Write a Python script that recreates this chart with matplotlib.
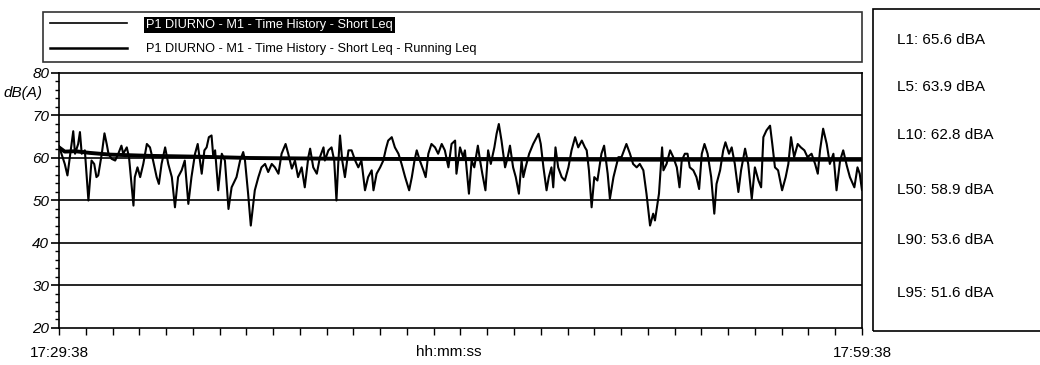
import numpy as np
import matplotlib
matplotlib.use("Agg")
import matplotlib.pyplot as plt
from matplotlib.patches import Rectangle

plt.rcParams['font.family'] = ['Liberation Sans', 'DejaVu Sans']

# short Leq time history, seconds from 17:29:38, dB(A)
t_short = [0, 13, 19, 32, 36, 43, 47, 51, 58, 66, 73, 79, 84, 88, 96, 102, 107, 111, 118, 126,
           133, 140, 144, 152, 157, 167, 170, 176, 182, 189, 197, 204, 211, 219, 224, 230, 238, 245, 253, 260,
           267, 275, 282, 290, 297, 305, 311, 316, 320, 326, 331, 336, 342, 346, 350, 357, 365, 372, 380, 387,
           398, 406, 413, 417, 424, 430, 439, 447, 454, 462, 469, 477, 484, 492, 499, 508, 514, 522, 529, 536,
           544, 551, 559, 563, 570, 578, 585, 593, 596, 604, 611, 617, 622, 626, 630, 635, 641, 649, 656, 664,
           671, 678, 686, 693, 701, 705, 712, 720, 727, 733, 738, 746, 753, 761, 768, 776, 785, 791, 797, 802,
           809, 817, 822, 828, 835, 843, 850, 858, 865, 873, 880, 888, 891, 899, 906, 910, 919, 925, 931, 939,
           944, 949, 956, 962, 968, 976, 981, 986, 992, 1000, 1006, 1011, 1018, 1024, 1031, 1037, 1041, 1046, 1054, 1063,
           1075, 1080, 1086, 1093, 1098, 1104, 1108, 1113, 1119, 1127, 1134, 1142, 1149, 1157, 1164, 1172, 1179, 1183, 1188, 1194,
           1200, 1207, 1216, 1222, 1230, 1235, 1243, 1254, 1261, 1272, 1280, 1287, 1295, 1302, 1310, 1317, 1325, 1332, 1336, 1345,
           1352, 1355, 1362, 1370, 1377, 1385, 1391, 1396, 1403, 1409, 1414, 1422, 1429, 1435, 1441, 1447, 1454, 1462, 1469, 1474,
           1482, 1489, 1494, 1502, 1508, 1515, 1523, 1529, 1538, 1545, 1553, 1560, 1568, 1574, 1579, 1586, 1594, 1599, 1605, 1612,
           1621, 1629, 1635, 1641, 1648, 1656, 1663, 1671, 1678, 1687, 1695, 1701, 1706, 1713, 1721, 1728, 1736, 1743, 1751, 1758,
           1766, 1773, 1783, 1790, 1795, 1800]
leq_short = [62.8, 58.6, 55.9, 66.3, 61.0, 63.3, 66.1, 61.0, 61.8, 50.0, 59.4, 58.6, 55.5, 55.9, 61.0, 65.8, 63.3, 61.0, 59.8, 59.4,
             61.0, 62.9, 61.0, 62.5, 60.2, 48.8, 55.5, 57.8, 55.5, 58.6, 63.3, 62.5, 59.4, 55.5, 53.9, 58.6, 62.5, 58.6, 55.5, 48.4,
             55.5, 57.1, 59.4, 49.2, 55.5, 61.0, 63.3, 59.4, 56.3, 61.8, 62.5, 64.9, 65.3, 60.2, 61.8, 52.4, 61.0, 59.4, 48.0, 53.1,
             55.5, 59.4, 61.4, 59.4, 51.6, 44.1, 52.4, 55.5, 57.8, 58.6, 56.7, 58.6, 57.8, 56.3, 61.0, 63.3, 61.0, 57.5, 59.4, 55.5,
             57.8, 53.1, 60.2, 62.2, 57.8, 56.3, 60.2, 62.5, 59.4, 61.8, 62.5, 59.4, 50.0, 58.6, 65.3, 59.4, 55.5, 61.8, 61.8, 59.4,
             57.8, 59.4, 52.4, 55.5, 57.1, 52.4, 56.3, 57.8, 59.4, 62.2, 64.1, 64.9, 62.5, 61.0, 58.6, 55.5, 52.4, 55.5, 59.4, 61.8,
             59.4, 57.1, 55.5, 61.0, 63.3, 62.5, 61.0, 63.3, 61.8, 57.8, 63.3, 64.1, 56.3, 62.5, 60.2, 61.8, 51.6, 59.4, 57.8, 62.9,
             59.4, 56.3, 52.4, 61.8, 58.6, 62.5, 65.7, 68.0, 64.1, 57.8, 60.2, 62.9, 57.8, 55.5, 51.6, 59.4, 55.5, 57.8, 61.0, 63.3,
             65.7, 63.3, 57.8, 52.4, 55.5, 57.8, 53.1, 62.5, 57.8, 55.5, 54.7, 57.8, 61.8, 64.9, 62.5, 64.1, 62.5, 61.8, 57.1, 48.4,
             55.5, 54.7, 61.0, 62.9, 56.3, 50.4, 55.5, 60.2, 60.2, 63.3, 61.0, 58.6, 57.8, 58.6, 57.1, 51.6, 44.1, 46.9, 45.3, 51.6,
             62.5, 57.1, 58.6, 61.8, 60.2, 57.8, 53.1, 59.4, 61.0, 61.0, 57.8, 57.1, 55.5, 52.7, 61.0, 63.3, 61.0, 55.5, 46.9, 53.9,
             57.1, 61.8, 63.7, 61.0, 62.5, 58.6, 52.0, 57.1, 62.2, 58.6, 50.4, 57.8, 54.7, 53.1, 64.9, 66.5, 67.6, 63.3, 57.8, 57.1,
             52.4, 55.5, 58.6, 64.9, 60.2, 63.3, 62.5, 61.8, 60.2, 61.0, 58.6, 56.3, 61.8, 66.9, 63.3, 58.6, 61.0, 52.4, 59.4, 61.8,
             58.2, 55.5, 53.1, 57.8, 56.3, 52.5]

# running Leq
t_run = [0, 13, 36, 69, 114, 204, 316, 428, 652, 989, 1325, 1800]
leq_run = [62.5, 61.5, 61.6, 61.2, 60.8, 60.5, 60.3, 60.0, 59.8, 59.7, 59.6, 59.6]

stat_names = ["L1", "L5", "L10", "L50", "L90", "L95"]
stat_values = [65.6, 63.9, 62.8, 58.9, 53.6, 51.6]

series_labels = ["P1 DIURNO - M1 - Time History - Short Leq",
                 "P1 DIURNO - M1 - Time History - Short Leq - Running Leq"]

fig = plt.figure(figsize=(10.4, 3.65), dpi=100)
ax = fig.add_axes([0.0567, 0.1014, 0.7721, 0.6986])

l1, = ax.plot(t_short, leq_short, color='black', lw=1.5)
l2, = ax.plot(t_run, leq_run, color='black', lw=2.8)

ax.set_xlim(0, 1800)
ax.set_ylim(20, 80)
for yv in [30, 40, 50, 60, 70]:
    ax.axhline(yv, color='black', lw=1.2, zorder=0)

ax.set_yticks(np.arange(20, 81, 10))
ax.set_yticks(np.arange(20, 81, 2), minor=True)
ax.set_yticklabels([str(v) for v in range(20, 81, 10)], fontstyle='italic', fontsize=11)
ax.tick_params(axis='y', which='major', direction='out', length=6, width=1.2, pad=1)
ax.tick_params(axis='y', which='minor', direction='out', length=3, width=1)

xt = np.arange(0, 1801, 60)
ax.set_xticks(xt)
ax.set_xticklabels(['17:29:38' if v == 0 else ('17:59:38' if v == 1800 else '') for v in xt], fontsize=11)
ax.tick_params(axis='x', which='major', direction='out', length=5, width=1, pad=8)
ax.set_xlabel('hh:mm:ss', fontsize=11)
ax.xaxis.set_label_coords(0.485, -0.068)

for s in ax.spines.values():
    s.set_linewidth(1.2)

fig.text(0.003, 0.745, 'dB(A)', fontsize=11, fontstyle='italic', va='center', ha='left')

leg = ax.legend([l1, l2], series_labels, loc='lower left', mode='expand',
                bbox_to_anchor=(0.0413, 0.8301, 0.7875, 0.1507), bbox_transform=fig.transFigure,
                frameon=True, fancybox=False, edgecolor='black', fontsize=9.2,
                handlelength=6.0, handletextpad=1.5, labelspacing=0.95, borderpad=0.55, borderaxespad=0)
leg.get_frame().set_linewidth(1.2)
hs = leg.legend_handles
hs[0].set_linewidth(1.2)
hs[1].set_linewidth(1.8)
t0 = leg.get_texts()[0]
t0.set_color('white')
t0.set_bbox(dict(facecolor='black', edgecolor='none', pad=1.5))

fig.patches.append(Rectangle((0.8394, 0.0932), 0.2, 0.8821, transform=fig.transFigure,
                             fill=False, edgecolor='black', lw=1.2))
ys = [0.890, 0.762, 0.630, 0.479, 0.342, 0.197]
for name, val, y in zip(stat_names, stat_values, ys):
    fig.text(0.8625, y, f"{name}: {val:.1f} dBA", fontsize=11, va='center', ha='left')

fig.savefig('out.png', dpi=100)
